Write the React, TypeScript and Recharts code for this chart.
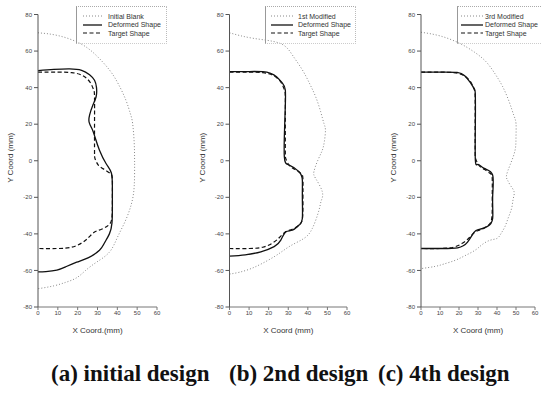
import React from 'react';
import { LineChart, Line, XAxis, YAxis, Legend } from 'recharts';

type Pt = { x: number; y: number };

const xTicks = [0, 10, 20, 30, 40, 50, 60];
const yTicks = [-80, -60, -40, -20, 0, 20, 40, 60, 80];
const captions = ['(a) initial design', '(b) 2nd design', '(c) 4th design'];

// target die shape, same in every panel
const targetShape: Pt[] = [
    { x: 0, y: 48.5 }, { x: 10, y: 48.5 }, { x: 17, y: 48.2 }, { x: 21, y: 47.3 }, { x: 24, y: 45.5 },
    { x: 26.5, y: 42.5 }, { x: 28, y: 39 }, { x: 28.5, y: 35 }, { x: 28.5, y: 20 }, { x: 28.5, y: 5 },
    { x: 28.8, y: 1 }, { x: 30.5, y: -2.5 }, { x: 33.5, y: -4.8 }, { x: 36.5, y: -7 }, { x: 37.5, y: -10 },
    { x: 37.5, y: -20 }, { x: 37.3, y: -31 }, { x: 35.5, y: -35.3 }, { x: 32, y: -37.5 }, { x: 28.5, y: -39 },
    { x: 25.5, y: -42 }, { x: 22, y: -45 }, { x: 17, y: -47.3 }, { x: 10, y: -48 }, { x: 0, y: -48 },
];

// (a) initial design
const initialBlank: Pt[] = [
    { x: 0, y: 70 }, { x: 10, y: 68.5 }, { x: 21, y: 64.3 }, { x: 29, y: 58 }, { x: 36, y: 49.7 },
    { x: 40.5, y: 42 }, { x: 44.3, y: 33.2 }, { x: 46.5, y: 26 }, { x: 47.7, y: 20.5 }, { x: 48.5, y: 10 },
    { x: 48.7, y: 0 }, { x: 48.5, y: -14 }, { x: 47, y: -24 }, { x: 44, y: -33 }, { x: 40, y: -42 },
    { x: 36, y: -50 }, { x: 29.5, y: -55.5 }, { x: 24, y: -60 }, { x: 19.5, y: -64 }, { x: 14, y: -66.5 },
    { x: 7.7, y: -68.5 }, { x: 0, y: -70 },
];
const deformedInitial: Pt[] = [
    { x: 0, y: 49.3 }, { x: 8, y: 50 }, { x: 16, y: 50.3 }, { x: 22, y: 49.5 }, { x: 26, y: 47 },
    { x: 28.5, y: 44 }, { x: 29.5, y: 40 }, { x: 29.3, y: 35 }, { x: 27.5, y: 30 }, { x: 26, y: 25 },
    { x: 25.8, y: 21 }, { x: 27.5, y: 16.8 }, { x: 29, y: 12 }, { x: 31, y: 5.8 }, { x: 34.3, y: -1.5 },
    { x: 37, y: -6.7 }, { x: 37.5, y: -15 }, { x: 37.5, y: -25 }, { x: 37.3, y: -34 }, { x: 36, y: -40 },
    { x: 33.5, y: -45 }, { x: 31, y: -49 }, { x: 25.5, y: -53 }, { x: 19.5, y: -55.5 }, { x: 14, y: -58 },
    { x: 9.5, y: -59.8 }, { x: 4, y: -60.6 }, { x: 0, y: -60.8 },
];

// (b) 2nd design
const firstModified: Pt[] = [
    { x: 0, y: 70 }, { x: 12, y: 67 }, { x: 25.6, y: 64.3 }, { x: 32, y: 58 }, { x: 37.2, y: 49.7 },
    { x: 41, y: 42 }, { x: 44, y: 35 }, { x: 46.5, y: 27 }, { x: 48.2, y: 20.5 }, { x: 49, y: 16.8 },
    { x: 48.5, y: 11 }, { x: 47.4, y: 5.8 }, { x: 45, y: 0 }, { x: 43.1, y: -6 }, { x: 44, y: -9.7 },
    { x: 47.4, y: -17 }, { x: 46.8, y: -22 }, { x: 45.7, y: -27 }, { x: 42.3, y: -37 }, { x: 38, y: -42.5 },
    { x: 32, y: -46 }, { x: 27, y: -49.5 }, { x: 22.8, y: -52.5 }, { x: 17, y: -56 }, { x: 11, y: -59 },
    { x: 5, y: -61 }, { x: 0, y: -62 },
];
const deformedSecond: Pt[] = [
    { x: 0, y: 48.7 }, { x: 10, y: 48.8 }, { x: 17, y: 48.7 }, { x: 21, y: 47.8 }, { x: 24, y: 46 },
    { x: 27, y: 42.5 }, { x: 28.5, y: 38.7 }, { x: 28.5, y: 30 }, { x: 28.2, y: 20 }, { x: 28, y: 2.2 },
    { x: 30.5, y: -2.4 }, { x: 35.5, y: -6 }, { x: 37.2, y: -10.6 }, { x: 37.2, y: -20 }, { x: 37.2, y: -31.6 },
    { x: 35.5, y: -35.2 }, { x: 32.1, y: -38 }, { x: 28.8, y: -38.9 }, { x: 26.2, y: -43.4 }, { x: 22.8, y: -47 },
    { x: 16, y: -49.8 }, { x: 8, y: -51.5 }, { x: 0, y: -52.2 },
];

// (c) 4th design
const thirdModified: Pt[] = [
    { x: 0, y: 70.3 }, { x: 10, y: 68.3 }, { x: 20.2, y: 64.3 }, { x: 28, y: 59.5 }, { x: 34.2, y: 54.2 },
    { x: 39, y: 47.5 }, { x: 43, y: 40.5 }, { x: 46.5, y: 32 }, { x: 48.8, y: 25 }, { x: 50, y: 20.4 },
    { x: 50, y: 13 }, { x: 49.5, y: 5.7 }, { x: 47, y: -2 }, { x: 45, y: -8 }, { x: 45.5, y: -10.5 },
    { x: 47, y: -13.4 }, { x: 49, y: -17 }, { x: 48.5, y: -21 }, { x: 47.7, y: -26 }, { x: 46, y: -31 },
    { x: 44.2, y: -36 }, { x: 42, y: -40 }, { x: 40, y: -42.5 }, { x: 36.3, y: -43.5 }, { x: 32, y: -46 },
    { x: 28.4, y: -49 }, { x: 23, y: -52 }, { x: 17.9, y: -54.5 }, { x: 12, y: -56.5 }, { x: 7.4, y: -57.8 },
    { x: 0, y: -59 },
];
const deformedFourth: Pt[] = [
    { x: 0, y: 48.5 }, { x: 10, y: 48.5 }, { x: 19, y: 48.3 }, { x: 23, y: 46.5 }, { x: 25.8, y: 43 },
    { x: 28, y: 39.5 }, { x: 28.6, y: 36 }, { x: 28.6, y: 20 }, { x: 28.6, y: 0.4 }, { x: 30, y: -2 },
    { x: 33.3, y: -4.2 }, { x: 37.7, y: -7.8 }, { x: 37.7, y: -20 }, { x: 37.7, y: -31.7 }, { x: 35, y: -35.9 },
    { x: 30.7, y: -37.6 }, { x: 28, y: -39 }, { x: 24.5, y: -44.5 }, { x: 19.3, y: -47.6 }, { x: 10, y: -48 },
    { x: 0, y: -48 },
];

const font = '"Liberation Sans", Arial, sans-serif';

const YTitle = (props: any) => {
    const vb = props.viewBox || {};
    const cx = vb.x + 2.5;
    const cy = vb.y + vb.height / 2 - 3;
    return (
        <text x={cx} y={cy} transform={`rotate(-90 ${cx} ${cy})`} textAnchor="middle"
            dominantBaseline="central" fontSize={8} fill="#333" fontFamily={font}>
            Y Coord (mm)
        </text>
    );
};

// legend keeps the blank first, like the original figure (recharts sorts by name otherwise)
const legendRank = (entry: any) => {
    if (entry.value === 'Deformed Shape') return 1;
    if (entry.value === 'Target Shape') return 2;
    return 0;
};

const LegendBox = ({ payload, lineX, lineW, textX, boxW }: any) => (
    <div style={{ position: 'relative', width: boxW, height: 36, borderLeft: '1px solid #999', borderTop: '1px dotted #aaa', borderRight: '1px dotted #bbb', borderBottom: '1px dotted #ccc', fontFamily: font }}>
        {[...(payload || [])].sort((a: any, b: any) => legendRank(a) - legendRank(b)).map((entry: any, i: number) => {
            const cy = 9 + i * 8.6;
            return (
                <div key={entry.value}>
                    <svg style={{ position: 'absolute', left: lineX, top: cy - 2 }} width={lineW} height={4}>
                        <line x1={0} y1={2} x2={lineW} y2={2} stroke={entry.payload?.stroke}
                            strokeWidth={entry.payload?.strokeWidth} strokeDasharray={entry.payload?.strokeDasharray} />
                    </svg>
                    <span style={{ position: 'absolute', left: textX, top: cy - 4.5, fontSize: 7, lineHeight: '9px', color: '#333', whiteSpace: 'nowrap' }}>
                        {entry.value}
                    </span>
                </div>
            );
        })}
    </div>
);

type PanelProps = {
    left: number;
    width: number;
    mLeft: number;
    mRight: number;
    blank: Pt[];
    blankName: string;
    deformed: Pt[];
    xTitle: string;
    legend: { left: number; lineX: number; lineW: number; textX: number; boxW: number };
};

const Panel = ({ left, width, mLeft, mRight, blank, blankName, deformed, xTitle, legend }: PanelProps) => (
    <div style={{ position: 'absolute', left, top: 0 }}>
        <LineChart width={width} height={340} margin={{ top: 14.5, right: mRight, bottom: 3, left: mLeft }}>
            <XAxis type="number" dataKey="x" domain={[0, 60]} ticks={xTicks} interval={0}
                tick={{ fontSize: 6, fill: '#444', fontFamily: font }} tickSize={3} tickMargin={1}
                stroke="#777" height={30}
                label={{ value: xTitle, position: 'insideBottom', offset: 4, fontSize: 8, fill: '#333', fontFamily: font }} />
            <YAxis type="number" domain={[-80, 80]} ticks={yTicks} interval={0} width={30}
                tick={{ fontSize: 6, fill: '#444', fontFamily: font }} tickSize={4} tickMargin={2}
                stroke="#555" label={<YTitle />} />
            <Legend layout="vertical" align="center" verticalAlign="middle"
                wrapperStyle={{ left: legend.left, top: 6, width: legend.boxW + 2 }}
                content={(p: any) => <LegendBox payload={p.payload} {...legend} />} />
            <Line data={blank} dataKey="y" name={blankName} type="natural" stroke="#888" strokeWidth={1}
                strokeDasharray="1 2" dot={false} isAnimationActive={false} />
            <Line data={deformed} dataKey="y" name="Deformed Shape" type="natural" stroke="#111" strokeWidth={1.3}
                dot={false} isAnimationActive={false} />
            <Line data={targetShape} dataKey="y" name="Target Shape" type="natural" stroke="#111" strokeWidth={1.2}
                strokeDasharray="4 2.5" dot={false} isAnimationActive={false} />
        </LineChart>
    </div>
);

export default function App() {
    const capLeft = [51, 229, 378];
    return (
        <div style={{ position: 'absolute', left: 0, top: 0, width: 541, height: 394, background: '#fff', overflow: 'hidden' }}>
            <Panel left={0} width={180} mLeft={8} mRight={23} blank={initialBlank} blankName="Initial Blank"
                deformed={deformedInitial} xTitle="X Coord.(mm)"
                legend={{ left: 76, lineX: 6, lineW: 19, textX: 31, boxW: 89 }} />
            <Panel left={180} width={180} mLeft={19.5} mRight={13} blank={firstModified} blankName="1st Modified"
                deformed={deformedSecond} xTitle="X Coord (mm)"
                legend={{ left: 85, lineX: 5, lineW: 22, textX: 32, boxW: 89 }} />
            <Panel left={360} width={181} mLeft={31} mRight={6} blank={thirdModified} blankName="3rd Modified"
                deformed={deformedFourth} xTitle="X Coord (mm)"
                legend={{ left: 97, lineX: 3, lineW: 22, textX: 27, boxW: 90 }} />
            {captions.map((c, i) => (
                <div key={c} style={{ position: 'absolute', left: capLeft[i], top: 362, fontFamily: '"Liberation Serif", "Times New Roman", serif', fontWeight: 'bold', fontSize: 23, lineHeight: '23px', color: '#111', whiteSpace: 'pre' }}>
                    {c}
                </div>
            ))}
        </div>
    );
}
